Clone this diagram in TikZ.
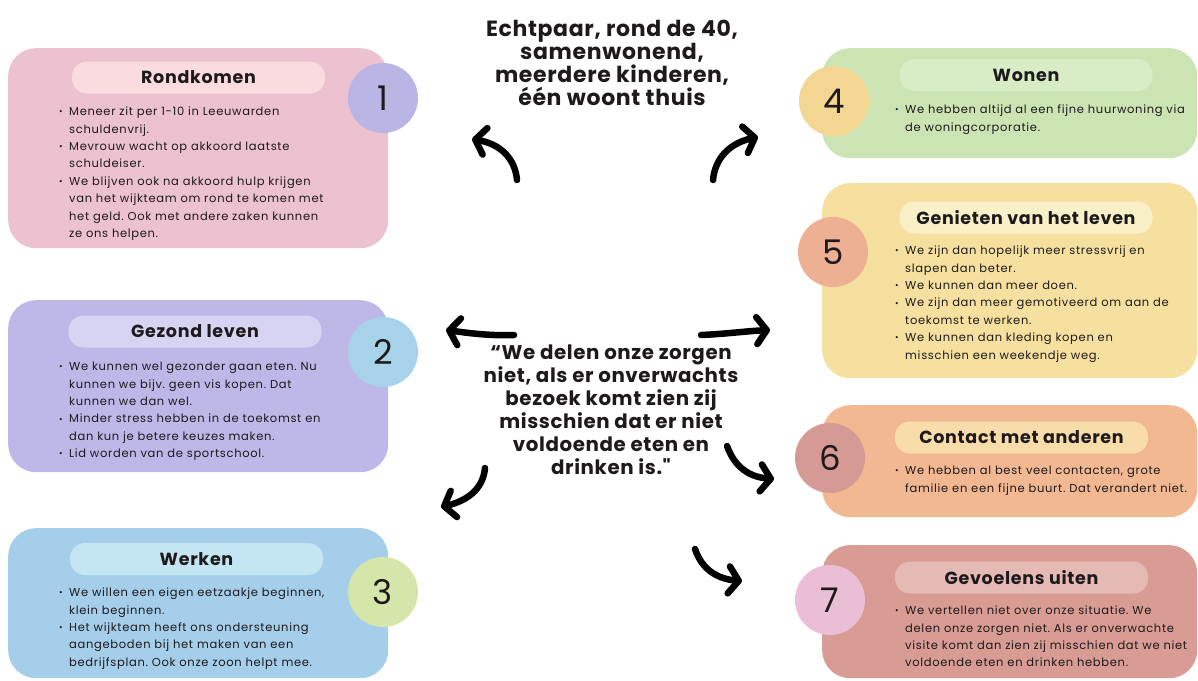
\documentclass[tikz,border=0pt]{standalone}
\usepackage{fontspec}
\usepackage{graphicx}
\setmainfont{Poppins}
\newfontfamily\bodyfont[LetterSpace=6]{Poppins}
\newfontfamily\headfont[LetterSpace=3]{Poppins}
\newfontfamily\pillfont[LetterSpace=4]{Poppins}
\usetikzlibrary{arrows.meta}
\definecolor{boxA}{HTML}{ECC1D0}\definecolor{pillA}{HTML}{FADBE0}\definecolor{circA}{HTML}{B9B6E6}
\definecolor{boxB}{HTML}{BEB8E8}\definecolor{pillB}{HTML}{D6D4F2}\definecolor{circB}{HTML}{A6D2EA}
\definecolor{boxC}{HTML}{A4CEEA}\definecolor{pillC}{HTML}{C4E6F2}\definecolor{circC}{HTML}{D6E6AA}
\definecolor{boxD}{HTML}{CCE4B4}\definecolor{pillD}{HTML}{D8ECC6}\definecolor{circD}{HTML}{F2D692}
\definecolor{boxE}{HTML}{F6E0A0}\definecolor{pillE}{HTML}{FAF0C8}\definecolor{circE}{HTML}{EEB092}
\definecolor{boxF}{HTML}{F2B892}\definecolor{pillF}{HTML}{F8DCAA}\definecolor{circF}{HTML}{D69A94}
\definecolor{boxG}{HTML}{D89C94}\definecolor{pillG}{HTML}{E6BAB4}\definecolor{circG}{HTML}{EABED4}
\definecolor{ink}{HTML}{1E1A1C}
\newcommand\bul[1]{\par\hangindent=10pt\hangafter=1\noindent\makebox[10pt][l]{\raisebox{0.8pt}{\scalebox{0.75}{•}}}#1\par}
\tikzset{
  card/.style={rounded corners=28pt, inner sep=0pt, anchor=north west},
  pill/.style={rounded corners=15pt, minimum width=253pt, minimum height=32pt, inner sep=0pt,
    text=ink, font=\pillfont\bfseries\fontsize{17.5}{19}\selectfont},
  num/.style={circle, minimum size=70pt, inner sep=0pt, text=ink, font=\fontsize{34}{34}\selectfont},
  body/.style={anchor=north west, inner sep=0pt, text width=330pt, align=left, text=ink,
    font=\bodyfont\frenchspacing\fontsize{11.5}{17.4}\selectfont},
  arr/.style={line width=6.5pt, line cap=round, -{Straight Barb[length=10pt,width=27pt,round]}}
}
\begin{document}
\begin{tikzpicture}[x=1pt,y=-1pt]
\useasboundingbox[fill=white] (0,0) rectangle (1198,680);
% cards
\node[card, fill=boxA, minimum width=380pt, minimum height=200pt] (b1) at (8,48) {};
\node[card, fill=boxB, minimum width=380pt, minimum height=172pt] (b2) at (8,300) {};
\node[card, fill=boxC, minimum width=380pt, minimum height=150pt] (b3) at (8,528) {};
\node[card, fill=boxD, minimum width=375pt, minimum height=110pt] (b4) at (822,48) {};
\node[card, fill=boxE, minimum width=375pt, minimum height=195pt] (b5) at (822,183) {};
\node[card, fill=boxF, minimum width=375pt, minimum height=112pt] (b6) at (822,405) {};
\node[card, fill=boxG, minimum width=375pt, minimum height=133pt] (b7) at (822,545) {};
% pills
\node[pill, fill=pillA] (p1) at (198.5,77.5) {Rondkomen};
\node[pill, fill=pillB] (p2) at (195,331.5) {Gezond leven};
\node[pill, fill=pillC] (p3) at (196.5,559) {Werken};
\node[pill, fill=pillD] (p4) at (1026,75) {Wonen};
\node[pill, fill=pillE] (p5) at (1026,217.5) {Genieten van het leven};
\node[pill, fill=pillF] (p6) at (1021.5,437.5) {Contact met anderen};
\node[pill, fill=pillG] (p7) at (1021.5,577.5) {Gevoelens uiten};
% body texts
\node[body] (t1) at (59,98) {\bul{Meneer zit per 1-10 in Leeuwarden\newline schuldenvrij.}\bul{Mevrouw wacht op akkoord laatste\newline schuldeiser.}\bul{We blijven ook na akkoord hulp krijgen\newline van het wijkteam om rond te komen met\newline het geld. Ook met andere zaken kunnen\newline ze ons helpen.}};
\node[body] (t2) at (59,353) {\bul{We kunnen wel gezonder gaan eten. Nu\newline kunnen we bijv. geen vis kopen. Dat\newline kunnen we dan wel.}\bul{Minder stress hebben in de toekomst en\newline dan kun je betere keuzes maken.}\bul{Lid worden van de sportschool.}};
\node[body] (t3) at (59,579) {\bul{We willen een eigen eetzaakje beginnen,\newline klein beginnen.}\bul{Het wijkteam heeft ons ondersteuning\newline aangeboden bij het maken van een\newline bedrijfsplan. Ook onze zoon helpt mee.}};
\node[body] (t4) at (895,96) {\bul{We hebben altijd al een fijne huurwoning via\newline de woningcorporatie.}};
\node[body] (t5) at (895,237) {\bul{We zijn dan hopelijk meer stressvrij en\newline slapen dan beter.}\bul{We kunnen dan meer doen.}\bul{We zijn dan meer gemotiveerd om aan de\newline toekomst te werken.}\bul{We kunnen dan kleding kopen en\newline misschien een weekendje weg.}};
\node[body] (t6) at (895,457) {\bul{We hebben al best veel contacten, grote\newline familie en een fijne buurt. Dat verandert niet.}};
\node[body] (t7) at (895,597) {\bul{We vertellen niet over onze situatie. We\newline delen onze zorgen niet. Als er onverwachte\newline visite komt dan zien zij misschien dat we niet\newline voldoende eten en drinken hebben.}};
% circles
\node[num, fill=circA] (c1) at (383,98) {1};
\node[num, fill=circB] (c2) at (383,352) {2};
\node[num, fill=circC] (c3) at (383,592) {3};
\node[num, fill=circD] (c4) at (834,101) {4};
\node[num, fill=circE] (c5) at (833,252) {5};
\node[num, fill=circF] (c6) at (830,458) {6};
\node[num, fill=circG] (c7) at (830,600) {7};
% central texts
\node[anchor=north, align=center, inner sep=0pt, text=ink, font=\headfont\bfseries\fontsize{22}{23}\selectfont] (head) at (612,20)
  {Echtpaar, rond de 40,\\samenwonend,\\meerdere kinderen,\\één woont thuis};
\node[anchor=north, align=center, inner sep=0pt, text=ink, font=\headfont\bfseries\fontsize{19.8}{23}\selectfont] (quote) at (611,345)
  {“We delen onze zorgen\\niet, als er onverwachts\\bezoek komt zien zij\\misschien dat er niet\\voldoende eten en\\drinken is."};
% arrows
\coordinate (a1s) at (517,180); \coordinate (a1e) at (472,139);
\coordinate (a4s) at (713,180); \coordinate (a4e) at (758,137);
\coordinate (a2s) at (514,335); \coordinate (a2e) at (446,330);
\coordinate (a5s) at (701,335); \coordinate (a5e) at (770,330);
\coordinate (a3s) at (485,468); \coordinate (a3e) at (441,507);
\coordinate (a6s) at (727,446); \coordinate (a6e) at (774,479);
\coordinate (a7s) at (695,549); \coordinate (a7e) at (742,581);
\draw[arr] (a1s) .. controls (515,158) and (500,144) .. (a1e);
\draw[arr] (a4s) .. controls (715,158) and (730,143) .. (a4e);
\draw[arr] (a2s) .. controls (490,336) and (468,333) .. (a2e);
\draw[arr] (a5s) .. controls (725,334) and (748,331) .. (a5e);
\draw[arr] (a3s) .. controls (483,490) and (466,501) .. (a3e);
\draw[arr] (a6s) .. controls (735,468) and (750,477) .. (a6e);
\draw[arr] (a7s) .. controls (702,570) and (718,579) .. (a7e);
\end{tikzpicture}
\end{document}
